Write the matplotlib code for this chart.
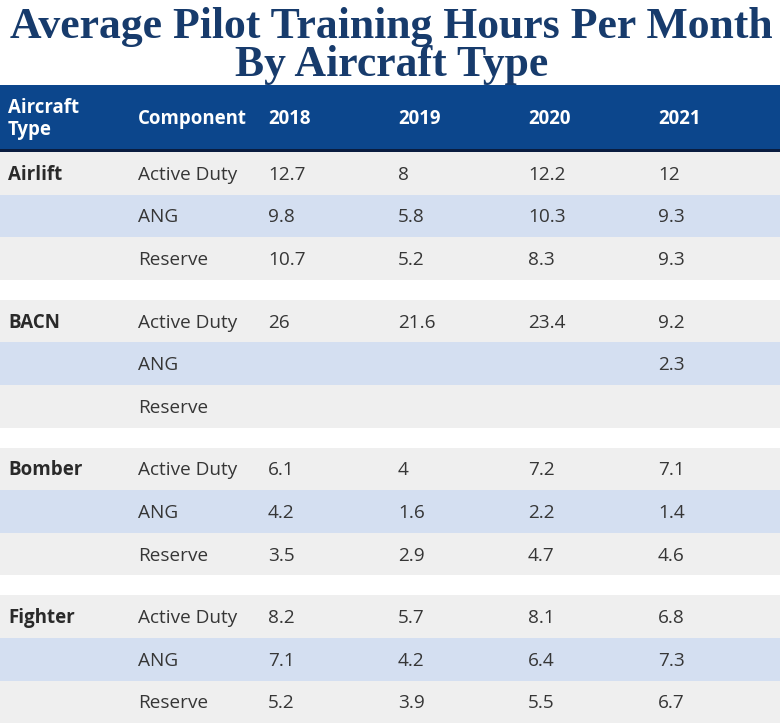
import matplotlib.pyplot as plt

# Table data
aircraft_types = ["Airlift", "BACN", "Bomber", "Fighter"]
components = ["Active Duty", "ANG", "Reserve"]
years = ["2018", "2019", "2020", "2021"]

airlift = [[12.7, 8, 12.2, 12], [9.8, 5.8, 10.3, 9.3], [10.7, 5.2, 8.3, 9.3]]
bacn = [[26, 21.6, 23.4, 9.2], [None, None, None, 2.3], [None, None, None, None]]
bomber = [[6.1, 4, 7.2, 7.1], [4.2, 1.6, 2.2, 1.4], [3.5, 2.9, 4.7, 4.6]]
fighter = [[8.2, 5.7, 8.1, 6.8], [7.1, 4.2, 6.4, 7.3], [5.2, 3.9, 5.5, 6.7]]
groups = [airlift, bacn, bomber, fighter]

# Layout (pixels)
W, H = 783, 723
table_w = 780
head_top, head_bot = 85, 149
first_row = 152
row_h = 42.6
gap = 20
col_x = [8, 138, 268, 398, 528, 658]

navy = "#0c468c"
title_col = "#173b6c"
gray_row = "#efefef"
blue_row = "#d4dff1"
text_col = "#363636"

fig = plt.figure(figsize=(W / 100, H / 100), dpi=100)
ax = fig.add_axes([0, 0, 1, 1])
ax.set_xlim(0, W)
ax.set_ylim(H, 0)
ax.axis("off")

# Title
fig.text(0.5, 1 - 27 / H, "Average Pilot Training Hours Per Month", ha="center", va="center",
         fontsize=31.5, fontweight="bold", family="Liberation Serif", color=title_col)
fig.text(0.5, 1 - 65 / H, "By Aircraft Type", ha="center", va="center",
         fontsize=31.5, fontweight="bold", family="Liberation Serif", color=title_col)

# Header band
ax.barh((head_top + head_bot) / 2, table_w, height=head_bot - head_top, left=0, color=navy)
ax.barh(head_bot + 1.5, table_w, height=3, left=0, color="#0a1d40")
head_labels = ["Aircraft\nType", "Component"] + years
for x, lab in zip(col_x, head_labels):
    ax.text(x, 119, lab, ha="left", va="center", fontsize=13.4, fontweight="bold",
            family="Open Sans", color="white", linespacing=1.1)

# Body rows
for g, (name, rows) in enumerate(zip(aircraft_types, groups)):
    top = first_row + g * (3 * row_h + gap)
    for r, (comp, vals) in enumerate(zip(components, rows)):
        yc = top + r * row_h + row_h / 2
        ax.barh(yc, table_w, height=row_h, left=0,
                color=blue_row if r == 1 else gray_row)
        if r == 0:
            ax.text(col_x[0], yc + 1.5, name, ha="left", va="center", fontsize=13.5,
                    fontweight="bold", family="Open Sans", color="#2a2a2a")
        ax.text(col_x[1], yc + 1.5, comp, ha="left", va="center", fontsize=13.7,
                family="Open Sans", color=text_col)
        for x, v in zip(col_x[2:], vals):
            if v is not None:
                ax.text(x, yc + 1.5, f"{v:g}", ha="left", va="center", fontsize=13.7,
                        family="Open Sans", color=text_col)

fig.savefig("out.png", dpi=100, facecolor="white")
plt.close(fig)
